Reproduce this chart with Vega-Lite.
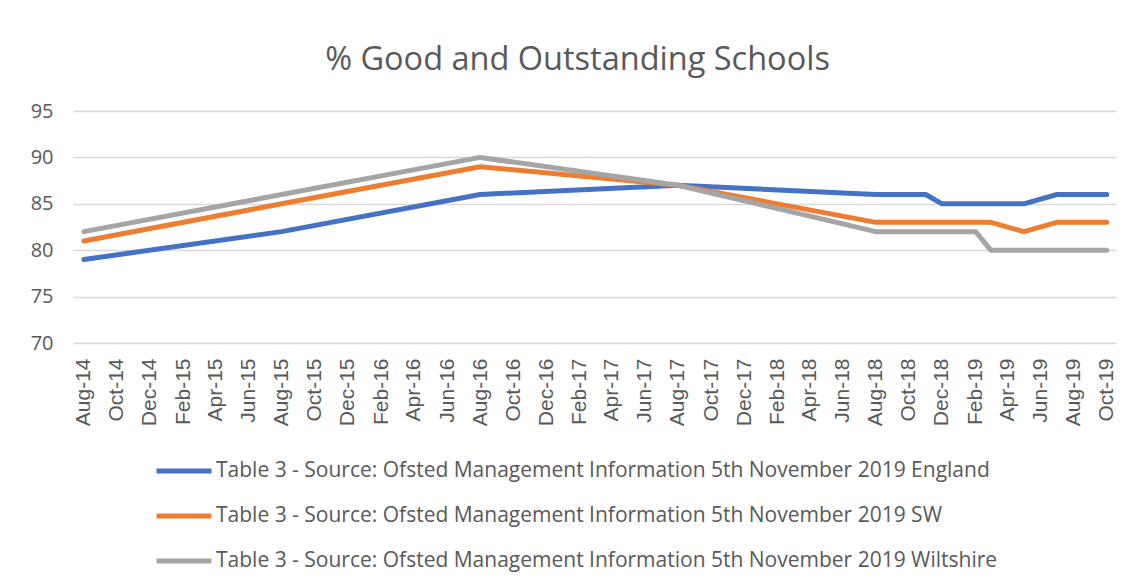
{
  "$schema": "https://vega.github.io/schema/vega-lite/v6.json",
  "autosize": {"type": "none"},
  "width": 1043,
  "height": 232,
  "padding": {"left": 73, "top": 111, "right": 16, "bottom": 244},
  "background": "#ffffff",
  "config": {
    "font": "Open Sans",
    "view": {"stroke": null}
  },
  "title": {
    "text": "% Good and Outstanding Schools",
    "font": "Open Sans",
    "fontSize": 32.5,
    "fontWeight": "normal",
    "color": "#595959",
    "anchor": "middle",
    "dx": -17,
    "offset": 25
  },
  "data": {
    "values": [
      {"date": "2014-08-01", "series": "Table 3 - Source: Ofsted Management Information 5th November 2019 England", "value": 79},
      {"date": "2015-08-01", "series": "Table 3 - Source: Ofsted Management Information 5th November 2019 England", "value": 82},
      {"date": "2016-08-01", "series": "Table 3 - Source: Ofsted Management Information 5th November 2019 England", "value": 86},
      {"date": "2017-08-01", "series": "Table 3 - Source: Ofsted Management Information 5th November 2019 England", "value": 87},
      {"date": "2018-08-01", "series": "Table 3 - Source: Ofsted Management Information 5th November 2019 England", "value": 86},
      {"date": "2018-09-01", "series": "Table 3 - Source: Ofsted Management Information 5th November 2019 England", "value": 86},
      {"date": "2018-10-01", "series": "Table 3 - Source: Ofsted Management Information 5th November 2019 England", "value": 86},
      {"date": "2018-11-01", "series": "Table 3 - Source: Ofsted Management Information 5th November 2019 England", "value": 86},
      {"date": "2018-12-01", "series": "Table 3 - Source: Ofsted Management Information 5th November 2019 England", "value": 85},
      {"date": "2019-01-01", "series": "Table 3 - Source: Ofsted Management Information 5th November 2019 England", "value": 85},
      {"date": "2019-02-01", "series": "Table 3 - Source: Ofsted Management Information 5th November 2019 England", "value": 85},
      {"date": "2019-03-01", "series": "Table 3 - Source: Ofsted Management Information 5th November 2019 England", "value": 85},
      {"date": "2019-05-01", "series": "Table 3 - Source: Ofsted Management Information 5th November 2019 England", "value": 85},
      {"date": "2019-07-01", "series": "Table 3 - Source: Ofsted Management Information 5th November 2019 England", "value": 86},
      {"date": "2019-08-01", "series": "Table 3 - Source: Ofsted Management Information 5th November 2019 England", "value": 86},
      {"date": "2019-09-01", "series": "Table 3 - Source: Ofsted Management Information 5th November 2019 England", "value": 86},
      {"date": "2019-10-01", "series": "Table 3 - Source: Ofsted Management Information 5th November 2019 England", "value": 86},
      {"date": "2014-08-01", "series": "Table 3 - Source: Ofsted Management Information 5th November 2019 SW", "value": 81},
      {"date": "2015-08-01", "series": "Table 3 - Source: Ofsted Management Information 5th November 2019 SW", "value": 85},
      {"date": "2016-08-01", "series": "Table 3 - Source: Ofsted Management Information 5th November 2019 SW", "value": 89},
      {"date": "2017-08-01", "series": "Table 3 - Source: Ofsted Management Information 5th November 2019 SW", "value": 87},
      {"date": "2018-08-01", "series": "Table 3 - Source: Ofsted Management Information 5th November 2019 SW", "value": 83},
      {"date": "2018-09-01", "series": "Table 3 - Source: Ofsted Management Information 5th November 2019 SW", "value": 83},
      {"date": "2018-10-01", "series": "Table 3 - Source: Ofsted Management Information 5th November 2019 SW", "value": 83},
      {"date": "2018-11-01", "series": "Table 3 - Source: Ofsted Management Information 5th November 2019 SW", "value": 83},
      {"date": "2018-12-01", "series": "Table 3 - Source: Ofsted Management Information 5th November 2019 SW", "value": 83},
      {"date": "2019-01-01", "series": "Table 3 - Source: Ofsted Management Information 5th November 2019 SW", "value": 83},
      {"date": "2019-02-01", "series": "Table 3 - Source: Ofsted Management Information 5th November 2019 SW", "value": 83},
      {"date": "2019-03-01", "series": "Table 3 - Source: Ofsted Management Information 5th November 2019 SW", "value": 83},
      {"date": "2019-05-01", "series": "Table 3 - Source: Ofsted Management Information 5th November 2019 SW", "value": 82},
      {"date": "2019-07-01", "series": "Table 3 - Source: Ofsted Management Information 5th November 2019 SW", "value": 83},
      {"date": "2019-08-01", "series": "Table 3 - Source: Ofsted Management Information 5th November 2019 SW", "value": 83},
      {"date": "2019-09-01", "series": "Table 3 - Source: Ofsted Management Information 5th November 2019 SW", "value": 83},
      {"date": "2019-10-01", "series": "Table 3 - Source: Ofsted Management Information 5th November 2019 SW", "value": 83},
      {"date": "2014-08-01", "series": "Table 3 - Source: Ofsted Management Information 5th November 2019 Wiltshire", "value": 82},
      {"date": "2015-08-01", "series": "Table 3 - Source: Ofsted Management Information 5th November 2019 Wiltshire", "value": 86},
      {"date": "2016-08-01", "series": "Table 3 - Source: Ofsted Management Information 5th November 2019 Wiltshire", "value": 90},
      {"date": "2017-08-01", "series": "Table 3 - Source: Ofsted Management Information 5th November 2019 Wiltshire", "value": 87},
      {"date": "2018-08-01", "series": "Table 3 - Source: Ofsted Management Information 5th November 2019 Wiltshire", "value": 82},
      {"date": "2018-09-01", "series": "Table 3 - Source: Ofsted Management Information 5th November 2019 Wiltshire", "value": 82},
      {"date": "2018-10-01", "series": "Table 3 - Source: Ofsted Management Information 5th November 2019 Wiltshire", "value": 82},
      {"date": "2018-11-01", "series": "Table 3 - Source: Ofsted Management Information 5th November 2019 Wiltshire", "value": 82},
      {"date": "2018-12-01", "series": "Table 3 - Source: Ofsted Management Information 5th November 2019 Wiltshire", "value": 82},
      {"date": "2019-01-01", "series": "Table 3 - Source: Ofsted Management Information 5th November 2019 Wiltshire", "value": 82},
      {"date": "2019-02-01", "series": "Table 3 - Source: Ofsted Management Information 5th November 2019 Wiltshire", "value": 82},
      {"date": "2019-03-01", "series": "Table 3 - Source: Ofsted Management Information 5th November 2019 Wiltshire", "value": 80},
      {"date": "2019-05-01", "series": "Table 3 - Source: Ofsted Management Information 5th November 2019 Wiltshire", "value": 80},
      {"date": "2019-07-01", "series": "Table 3 - Source: Ofsted Management Information 5th November 2019 Wiltshire", "value": 80},
      {"date": "2019-08-01", "series": "Table 3 - Source: Ofsted Management Information 5th November 2019 Wiltshire", "value": 80},
      {"date": "2019-09-01", "series": "Table 3 - Source: Ofsted Management Information 5th November 2019 Wiltshire", "value": 80},
      {"date": "2019-10-01", "series": "Table 3 - Source: Ofsted Management Information 5th November 2019 Wiltshire", "value": 80}
    ]
  },
  "mark": {"type": "line", "strokeWidth": 5, "strokeCap": "round", "strokeJoin": "round"},
  "encoding": {
    "x": {
      "field": "date",
      "type": "temporal",
      "scale": {
        "type": "utc",
        "nice": false,
        "domain": [
          {"year": 2014, "month": 7, "date": 12, "utc": true},
          {"year": 2019, "month": 10, "date": 18, "utc": true}
        ]
      },
      "axis": {
        "title": null,
        "labelExpr": "utcFormat(datum.value, '%b-%y')",
        "labelAngle": -90,
        "labelFont": "Liberation Sans",
        "labelFontSize": 21,
        "labelColor": "#595959",
        "labelPadding": 15,
        "labelOverlap": false,
        "labelFlush": false,
        "ticks": false,
        "domain": false,
        "grid": false,
        "values": [
          {"year": 2014, "month": 8, "date": 1, "utc": true},
          {"year": 2014, "month": 10, "date": 1, "utc": true},
          {"year": 2014, "month": 12, "date": 1, "utc": true},
          {"year": 2015, "month": 2, "date": 1, "utc": true},
          {"year": 2015, "month": 4, "date": 1, "utc": true},
          {"year": 2015, "month": 6, "date": 1, "utc": true},
          {"year": 2015, "month": 8, "date": 1, "utc": true},
          {"year": 2015, "month": 10, "date": 1, "utc": true},
          {"year": 2015, "month": 12, "date": 1, "utc": true},
          {"year": 2016, "month": 2, "date": 1, "utc": true},
          {"year": 2016, "month": 4, "date": 1, "utc": true},
          {"year": 2016, "month": 6, "date": 1, "utc": true},
          {"year": 2016, "month": 8, "date": 1, "utc": true},
          {"year": 2016, "month": 10, "date": 1, "utc": true},
          {"year": 2016, "month": 12, "date": 1, "utc": true},
          {"year": 2017, "month": 2, "date": 1, "utc": true},
          {"year": 2017, "month": 4, "date": 1, "utc": true},
          {"year": 2017, "month": 6, "date": 1, "utc": true},
          {"year": 2017, "month": 8, "date": 1, "utc": true},
          {"year": 2017, "month": 10, "date": 1, "utc": true},
          {"year": 2017, "month": 12, "date": 1, "utc": true},
          {"year": 2018, "month": 2, "date": 1, "utc": true},
          {"year": 2018, "month": 4, "date": 1, "utc": true},
          {"year": 2018, "month": 6, "date": 1, "utc": true},
          {"year": 2018, "month": 8, "date": 1, "utc": true},
          {"year": 2018, "month": 10, "date": 1, "utc": true},
          {"year": 2018, "month": 12, "date": 1, "utc": true},
          {"year": 2019, "month": 2, "date": 1, "utc": true},
          {"year": 2019, "month": 4, "date": 1, "utc": true},
          {"year": 2019, "month": 6, "date": 1, "utc": true},
          {"year": 2019, "month": 8, "date": 1, "utc": true},
          {"year": 2019, "month": 10, "date": 1, "utc": true}
        ]
      }
    },
    "y": {
      "field": "value",
      "type": "quantitative",
      "scale": {"domain": [70, 95], "nice": false, "zero": false},
      "axis": {
        "title": null,
        "values": [70, 75, 80, 85, 90, 95],
        "labelFontSize": 20,
        "labelColor": "#595959",
        "labelPadding": 20,
        "ticks": false,
        "domain": false,
        "grid": true,
        "gridColor": "#d9d9d9",
        "gridWidth": 1.5
      }
    },
    "color": {
      "field": "series",
      "type": "nominal",
      "scale": {
        "domain": [
          "Table 3 - Source: Ofsted Management Information 5th November 2019 England",
          "Table 3 - Source: Ofsted Management Information 5th November 2019 SW",
          "Table 3 - Source: Ofsted Management Information 5th November 2019 Wiltshire"
        ],
        "range": ["#4472C4", "#ED7D31", "#A5A5A5"]
      },
      "legend": {
        "title": null,
        "orient": "none",
        "legendX": 81,
        "legendY": 330,
        "direction": "vertical",
        "symbolType": "stroke",
        "symbolSize": 3025,
        "symbolStrokeWidth": 5,
        "labelFontSize": 21,
        "labelColor": "#595959",
        "labelLimit": 1000,
        "labelOffset": 2,
        "rowPadding": 5
      }
    }
  }
}
